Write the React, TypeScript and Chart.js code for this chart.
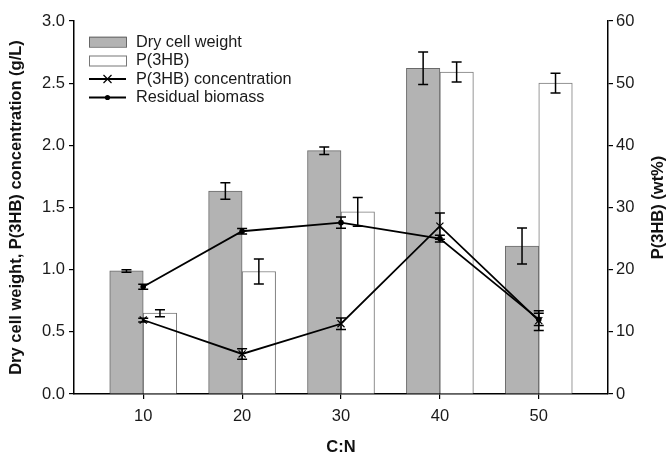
import React, { useEffect, useRef } from 'react';
import { Chart, registerables } from 'chart.js';

Chart.register(...registerables);

// ---- data ----
const cnRatios = [10, 20, 30, 40, 50];
const dryCellWeight = [0.99, 1.633, 1.957, 2.62, 1.19];
const dryCellWeightErr = [0.01, 0.067, 0.03, 0.13, 0.145];
const p3hbContent = [13.0, 19.7, 29.3, 51.8, 50.0];
const p3hbContentErr = [0.56, 2.0, 2.3, 1.6, 1.6];
const p3hbConcentration = [0.595, 0.322, 0.565, 1.35, 0.59];
const p3hbConcentrationErr = [0.015, 0.042, 0.047, 0.105, 0.08];
const residualBiomass = [0.863, 1.309, 1.378, 1.25, 0.6];
const residualBiomassErr = [0.02, 0.023, 0.045, 0.027, 0.05];
const leftTickValues = [0, 0.5, 1.0, 1.5, 2.0, 2.5, 3.0];
const rightTickValues = [0, 10, 20, 30, 40, 50, 60];
const xTickValues = [10, 20, 30, 40, 50];

const legendLabels = ['Dry cell weight', 'P(3HB)', 'P(3HB) concentration', 'Residual biomass'];
const rightTitle = 'P(3HB) (wt%)';

const FONT = "'Liberation Sans', Arial, sans-serif";
const TICK_SIZE = 16.5;
const TITLE_SIZE = 16.5;

const errorBarPlugin = {
  id: 'errorBars',
  afterDatasetsDraw(chart: any) {
    const ctx = chart.ctx;
    chart.data.datasets.forEach((ds: any, i: number) => {
      if (!ds.errors) return;
      const meta = chart.getDatasetMeta(i);
      const yScale = chart.scales[meta.yAxisID];
      ctx.save();
      ctx.strokeStyle = '#000';
      ctx.lineWidth = 1.5;
      meta.data.forEach((el: any, j: number) => {
        const v = ds.data[j].y;
        const e = ds.errors[j];
        const x = el.x;
        const yTop = yScale.getPixelForValue(v + e);
        const yBot = yScale.getPixelForValue(v - e);
        const cap = 5;
        ctx.beginPath();
        ctx.moveTo(x, yTop);
        ctx.lineTo(x, yBot);
        ctx.moveTo(x - cap, yTop);
        ctx.lineTo(x + cap, yTop);
        ctx.moveTo(x - cap, yBot);
        ctx.lineTo(x + cap, yBot);
        ctx.stroke();
      });
      ctx.restore();
    });
  },
};

const legendPlugin = {
  id: 'customLegend',
  afterDraw(chart: any) {
    const ctx = chart.ctx;
    const { left, top, bottom } = chart.chartArea;
    const x0 = left + 15;
    const w = 37;
    const rowY = [top + 20.7, top + 39.5, top + 58, top + 76.5];
    ctx.save();
    // gray box
    ctx.fillStyle = '#b3b3b3';
    ctx.strokeStyle = '#666';
    ctx.lineWidth = 1;
    ctx.fillRect(x0, rowY[0] - 5, w, 10);
    ctx.strokeRect(x0 + 0.5, rowY[0] - 5 + 0.5, w, 10);
    // white box
    ctx.fillStyle = '#fff';
    ctx.strokeStyle = '#777';
    ctx.fillRect(x0, rowY[1] - 5, w, 10);
    ctx.strokeRect(x0 + 0.5, rowY[1] - 5 + 0.5, w, 10);
    // line with x
    ctx.strokeStyle = '#000';
    ctx.lineWidth = 1.8;
    ctx.beginPath();
    ctx.moveTo(x0, rowY[2]);
    ctx.lineTo(x0 + w, rowY[2]);
    ctx.stroke();
    const cx = x0 + w / 2;
    ctx.lineWidth = 1.2;
    ctx.beginPath();
    ctx.moveTo(cx - 4, rowY[2] - 4);
    ctx.lineTo(cx + 4, rowY[2] + 4);
    ctx.moveTo(cx - 4, rowY[2] + 4);
    ctx.lineTo(cx + 4, rowY[2] - 4);
    ctx.stroke();
    // line with dot
    ctx.lineWidth = 1.8;
    ctx.beginPath();
    ctx.moveTo(x0, rowY[3]);
    ctx.lineTo(x0 + w, rowY[3]);
    ctx.stroke();
    ctx.fillStyle = '#000';
    ctx.beginPath();
    ctx.arc(cx, rowY[3], 2.6, 0, Math.PI * 2);
    ctx.fill();
    // text
    ctx.fillStyle = '#1a1a1a';
    ctx.font = `16.3px ${FONT}`;
    ctx.textBaseline = 'middle';
    ctx.textAlign = 'left';
    legendLabels.forEach((t, i) => ctx.fillText(t, x0 + w + 10, rowY[i] + 0.5));
    // right axis title (reads bottom to top)
    ctx.fillStyle = '#111';
    ctx.font = `bold ${TITLE_SIZE}px ${FONT}`;
    ctx.textAlign = 'center';
    ctx.textBaseline = 'middle';
    ctx.translate(658, (top + bottom) / 2);
    ctx.rotate(-Math.PI / 2);
    ctx.fillText(rightTitle, 0, 0);
    ctx.restore();
  },
};

export default function App() {
  const canvasRef = useRef<HTMLCanvasElement>(null);

  useEffect(() => {
    if (!canvasRef.current) return;
    Chart.defaults.font.family = FONT;
    const gridOpts = { drawOnChartArea: false, drawTicks: true, tickLength: 5, color: '#000', lineWidth: 1.2, offset: false };
    const chart = new Chart(canvasRef.current, {
      type: 'bar',
      data: {
        datasets: [
          {
            type: 'line',
            label: legendLabels[2],
            data: cnRatios.map((x, i) => ({ x, y: p3hbConcentration[i] })),
            errors: p3hbConcentrationErr,
            yAxisID: 'y',
            borderColor: '#000',
            borderWidth: 1.8,
            pointStyle: 'crossRot',
            pointRadius: 5,
            pointBorderWidth: 1.2,
            pointBorderColor: '#000',
            pointBackgroundColor: '#000',
            tension: 0,
            order: 0,
          } as any,
          {
            type: 'line',
            label: legendLabels[3],
            data: cnRatios.map((x, i) => ({ x, y: residualBiomass[i] })),
            errors: residualBiomassErr,
            yAxisID: 'y',
            borderColor: '#000',
            borderWidth: 1.8,
            pointStyle: 'circle',
            pointRadius: 2.8,
            pointBorderWidth: 0,
            pointBackgroundColor: '#000',
            tension: 0,
            order: 0,
          } as any,
          {
            type: 'bar',
            label: legendLabels[0],
            data: cnRatios.map((x, i) => ({ x, y: dryCellWeight[i] })),
            errors: dryCellWeightErr,
            yAxisID: 'y',
            backgroundColor: '#b3b3b3',
            borderColor: '#6a6a6a',
            borderWidth: 1,
            barThickness: 33.5,
            order: 1,
          } as any,
          {
            type: 'bar',
            label: legendLabels[1],
            data: cnRatios.map((x, i) => ({ x, y: p3hbContent[i] })),
            errors: p3hbContentErr,
            yAxisID: 'y1',
            backgroundColor: '#ffffff',
            borderColor: '#7a7a7a',
            borderWidth: 1,
            barThickness: 33.5,
            order: 1,
          } as any,
        ],
      },
      options: {
        animation: false,
        responsive: false,
        layout: { padding: { top: 21, left: 0, right: 0, bottom: 0 } },
        plugins: { legend: { display: false }, tooltip: { enabled: false } },
        scales: {
          x: {
            type: 'linear',
            offset: false,
            min: 3,
            max: 57,
            afterBuildTicks: (axis: any) => {
              axis.ticks = xTickValues.map((v) => ({ value: v }));
            },
            afterFit: (s: any) => {
              s.height = 63;
            },
            grid: gridOpts,
            border: { display: true, color: '#000', width: 1.5 },
            ticks: { color: '#1a1a1a', font: { size: TICK_SIZE }, padding: 8, maxRotation: 0, callback: (v: any) => String(v) },
            title: {
              display: true,
              text: 'C:N',
              color: '#111',
              font: { size: TITLE_SIZE, weight: 'bold' },
              padding: { top: 1, bottom: 0 },
            },
          },
          y: {
            type: 'linear',
            position: 'left',
            min: 0,
            max: 3,
            afterBuildTicks: (axis: any) => {
              axis.ticks = leftTickValues.map((v) => ({ value: v }));
            },
            afterFit: (s: any) => {
              s.width = 74;
            },
            grid: gridOpts,
            border: { display: true, color: '#000', width: 1.5 },
            ticks: { color: '#1a1a1a', font: { size: TICK_SIZE }, padding: 4, callback: (v: any) => Number(v).toFixed(1) },
            title: {
              display: true,
              text: 'Dry cell weight, P(3HB) concentration (g/L)',
              color: '#111',
              font: { size: TITLE_SIZE, weight: 'bold' },
              padding: { top: 7, bottom: 0 },
            },
          },
          y1: {
            type: 'linear',
            position: 'right',
            min: 0,
            max: 60,
            afterBuildTicks: (axis: any) => {
              axis.ticks = rightTickValues.map((v) => ({ value: v }));
            },
            afterFit: (s: any) => {
              s.width = 63;
            },
            grid: gridOpts,
            border: { display: true, color: '#000', width: 1.5 },
            ticks: { color: '#1a1a1a', font: { size: TICK_SIZE }, padding: 3, callback: (v: any) => String(v) },
            title: { display: false },
          },
        },
      } as any,
      plugins: [errorBarPlugin, legendPlugin],
    });
    return () => chart.destroy();
  }, []);

  return (
    <div style={{ position: 'fixed', left: 0, top: 0, width: 671, height: 457, background: '#fff' }}>
      <canvas ref={canvasRef} width={671} height={457} />
    </div>
  );
}
